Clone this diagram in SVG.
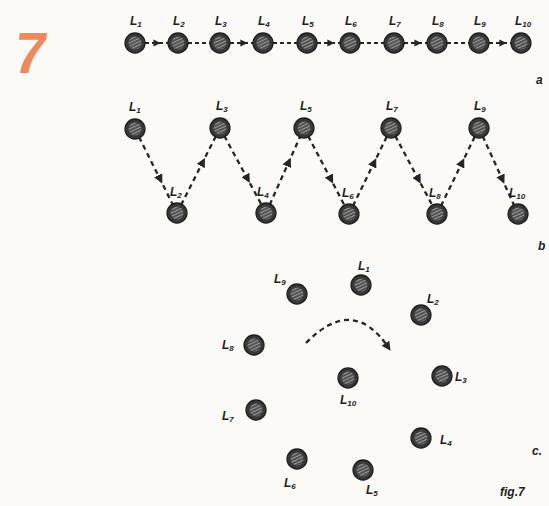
<svg xmlns="http://www.w3.org/2000/svg" width="549" height="506" viewBox="0 0 549 506">
<style>
.node{fill:#383838;stroke:#1e1e1e;stroke-width:1.3}
.hatch{fill:url(#hp)}
.lbl{font-family:"Liberation Sans",sans-serif;font-style:italic;font-weight:bold;font-size:12px;fill:#1e1e1e}
.sub{font-size:8px}
.con{fill:none;stroke:#262626;stroke-width:2.3;stroke-dasharray:5 4}
.row{stroke-width:1.8;stroke-dasharray:4 3}
.arr{marker-mid:url(#ah)}
.end{marker-end:url(#ah)}
</style>
<defs>
<pattern id="hp" width="3" height="3" patternUnits="userSpaceOnUse" patternTransform="rotate(65)">
<rect width="3" height="3" fill="#4a4a4a"/>
<rect width="1.2" height="3" fill="#9a9a9a"/>
</pattern>
<marker id="ah" viewBox="0 0 10 10" refX="5" refY="5" markerWidth="4" markerHeight="4" orient="auto" markerUnits="strokeWidth">
<path d="M0,0 L10,5 L0,10 z" fill="#262626"/>
</marker>
<g id="ball"><circle class="node" r="10"/><circle class="hatch" r="6.5"/></g>
</defs>
<rect width="549" height="506" fill="#fbfaf6"/>
<text x="14" y="73" font-family="Liberation Sans, sans-serif" font-weight="bold" font-size="58" fill="#f0885e" transform="skewX(-8) translate(8,0)">7</text>

<g id="connectors">
<!-- row a -->
<path class="con row arr" d="M145,43 L157,43 L168,43"/>
<path class="con row" d="M188,43 L210,43"/>
<path class="con row arr" d="M230,43 L244,43 L253,43"/>
<path class="con row" d="M273,43 L297,43"/>
<path class="con row arr" d="M317,43 L331,43 L340,43"/>
<path class="con row" d="M360,43 L384,43"/>
<path class="con row arr" d="M404,43 L418,43 L427,43"/>
<path class="con row" d="M447,43 L469,43"/>
<path class="con row arr" d="M489,43 L503,43 L511,43"/>
<!-- row b -->
<path class="con arr" d="M135,129 L160.2,179.4 L177,213"/>
<path class="con arr" d="M177,213 L202.8,162 L220,128"/>
<path class="con arr" d="M220,128 L247.6,179 L266,213"/>
<path class="con arr" d="M266,213 L288.8,162 L304,128"/>
<path class="con arr" d="M304,128 L331,179.6 L349,214"/>
<path class="con arr" d="M349,214 L374.2,162.4 L391,128"/>
<path class="con arr" d="M391,128 L418.6,179.6 L437,214"/>
<path class="con arr" d="M437,214 L462.2,162.4 L479,128"/>
<path class="con arr" d="M479,128 L502.4,179.6 L518,214"/>
<!-- c arc -->
<path class="con end" d="M306,343 Q353,295 388,347"/>
</g>

<!-- row a nodes -->
<g id="a1"><use href="#ball" x="135" y="43"/><text class="lbl" x="130" y="25">L<tspan class="sub" dy="2">1</tspan></text></g>
<g id="a2"><use href="#ball" x="178" y="43"/><text class="lbl" x="173" y="25">L<tspan class="sub" dy="2">2</tspan></text></g>
<g id="a3"><use href="#ball" x="220" y="43"/><text class="lbl" x="215" y="25">L<tspan class="sub" dy="2">3</tspan></text></g>
<g id="a4"><use href="#ball" x="263" y="43"/><text class="lbl" x="258" y="25">L<tspan class="sub" dy="2">4</tspan></text></g>
<g id="a5"><use href="#ball" x="307" y="43"/><text class="lbl" x="302" y="25">L<tspan class="sub" dy="2">5</tspan></text></g>
<g id="a6"><use href="#ball" x="350" y="43"/><text class="lbl" x="345" y="25">L<tspan class="sub" dy="2">6</tspan></text></g>
<g id="a7"><use href="#ball" x="394" y="43"/><text class="lbl" x="389" y="25">L<tspan class="sub" dy="2">7</tspan></text></g>
<g id="a8"><use href="#ball" x="437" y="43"/><text class="lbl" x="432" y="25">L<tspan class="sub" dy="2">8</tspan></text></g>
<g id="a9"><use href="#ball" x="479" y="43"/><text class="lbl" x="474" y="25">L<tspan class="sub" dy="2">9</tspan></text></g>
<g id="a10"><use href="#ball" x="521" y="43"/><text class="lbl" x="515" y="25">L<tspan class="sub" dy="2">10</tspan></text></g>
<text class="lbl" x="536" y="84">a</text>

<!-- row b nodes -->
<g id="b1"><use href="#ball" x="135" y="129"/><text class="lbl" x="129" y="111">L<tspan class="sub" dy="2">1</tspan></text></g>
<g id="b2"><use href="#ball" x="177" y="213"/><text class="lbl" x="170" y="196">L<tspan class="sub" dy="2">2</tspan></text></g>
<g id="b3"><use href="#ball" x="220" y="128"/><text class="lbl" x="216" y="110">L<tspan class="sub" dy="2">3</tspan></text></g>
<g id="b4"><use href="#ball" x="266" y="213"/><text class="lbl" x="257" y="196">L<tspan class="sub" dy="2">4</tspan></text></g>
<g id="b5"><use href="#ball" x="304" y="128"/><text class="lbl" x="300" y="110">L<tspan class="sub" dy="2">5</tspan></text></g>
<g id="b6"><use href="#ball" x="349" y="214"/><text class="lbl" x="342" y="197">L<tspan class="sub" dy="2">6</tspan></text></g>
<g id="b7"><use href="#ball" x="391" y="128"/><text class="lbl" x="386" y="110">L<tspan class="sub" dy="2">7</tspan></text></g>
<g id="b8"><use href="#ball" x="437" y="214"/><text class="lbl" x="429" y="197">L<tspan class="sub" dy="2">8</tspan></text></g>
<g id="b9"><use href="#ball" x="479" y="128"/><text class="lbl" x="474" y="110">L<tspan class="sub" dy="2">9</tspan></text></g>
<g id="b10"><use href="#ball" x="518" y="214"/><text class="lbl" x="509" y="197">L<tspan class="sub" dy="2">10</tspan></text></g>
<text class="lbl" x="538" y="250">b</text>

<!-- c nodes -->
<g id="c1"><use href="#ball" x="361" y="285"/><text class="lbl" x="358" y="270">L<tspan class="sub" dy="2">1</tspan></text></g>
<g id="c2"><use href="#ball" x="421" y="315"/><text class="lbl" x="427" y="303">L<tspan class="sub" dy="2">2</tspan></text></g>
<g id="c3"><use href="#ball" x="442" y="376"/><text class="lbl" x="455" y="381">L<tspan class="sub" dy="2">3</tspan></text></g>
<g id="c4"><use href="#ball" x="421" y="438"/><text class="lbl" x="440" y="444">L<tspan class="sub" dy="2">4</tspan></text></g>
<g id="c5"><use href="#ball" x="363" y="470"/><text class="lbl" x="366" y="494">L<tspan class="sub" dy="2">5</tspan></text></g>
<g id="c6"><use href="#ball" x="297" y="459"/><text class="lbl" x="284" y="487">L<tspan class="sub" dy="2">6</tspan></text></g>
<g id="c7"><use href="#ball" x="256" y="410"/><text class="lbl" x="222" y="420">L<tspan class="sub" dy="2">7</tspan></text></g>
<g id="c8"><use href="#ball" x="254" y="345"/><text class="lbl" x="222" y="349">L<tspan class="sub" dy="2">8</tspan></text></g>
<g id="c9"><use href="#ball" x="297" y="294"/><text class="lbl" x="274" y="283">L<tspan class="sub" dy="2">9</tspan></text></g>
<g id="c10"><use href="#ball" x="348" y="378"/><text class="lbl" x="340" y="404">L<tspan class="sub" dy="2">10</tspan></text></g>
<text class="lbl" x="532" y="455">c.</text>
<text class="lbl" x="500" y="496" font-size="13">fig.7</text>
</svg>
